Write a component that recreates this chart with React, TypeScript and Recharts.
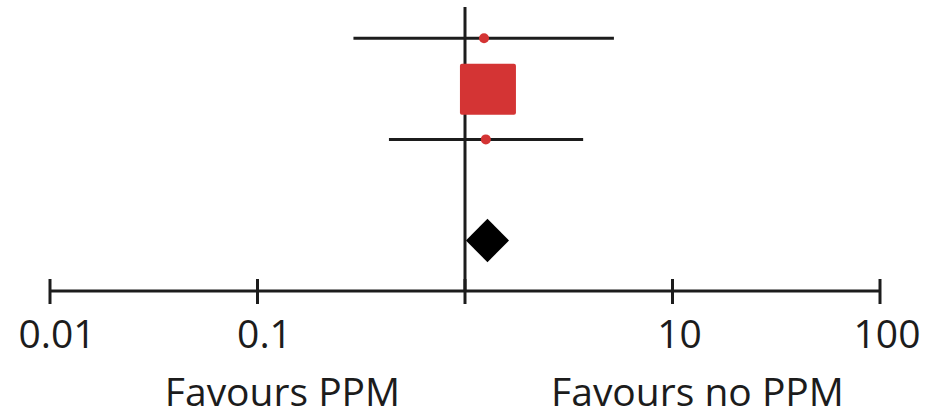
import { ComposedChart, XAxis, YAxis, Scatter, ReferenceLine, ReferenceArea } from 'recharts';

// study rows, top to bottom (y = row position on a hidden numeric axis)
const studyRows = [5, 4, 3];
const studyEstimates = [1.235, 1.29, 1.26];
const studyLower = [0.29, 1.03, 0.43];
const studyUpper = [5.22, 1.6, 3.71];
const studyMarkers = ['dot', 'square', 'dot'];

// pooled estimate
const pooledRow = 1;
const pooledEstimate = 1.27;
const pooledLower = 1.01;
const pooledUpper = 1.63;

const axisTicks = [0.01, 0.1, 1, 10, 100];
const tickLabels = ['0.01', '0.1', '', '10', '100'];
const favourTicks = [0.1, 10];
const favourLabels = ['Favours PPM', 'Favours no PPM'];

const INK = '#1c1c1c';
const RED = '#d43434';
const FONT = "'Open Sans', Lato, sans-serif";

const studies = studyRows.map((y, i) => ({
  y,
  x: studyEstimates[i],
  lo: studyLower[i],
  hi: studyUpper[i],
  marker: studyMarkers[i],
}));

const match = (list: number[], v: number) => list.findIndex((t) => Math.abs(Math.log10(t) - Math.log10(v)) < 1e-6);

function AxisTick({ x, y, payload }: any) {
  const i = match(axisTicks, payload.value);
  const f = match(favourTicks, payload.value);
  return (
    <g>
      <line x1={x} x2={x} y1={y - 12} y2={y + 13} stroke={INK} strokeWidth={3} />
      <text x={x + 7} y={y + 57} textAnchor="middle" fontFamily={FONT} fontSize={39} fill={INK}>
        {tickLabels[i]}
      </text>
      {f >= 0 && (
        <text x={x + 25} y={y + 115} textAnchor="middle" fontFamily={FONT} fontSize={39} fill={INK}>
          {favourLabels[f]}
        </text>
      )}
    </g>
  );
}

function StudyMarker({ cx, cy, payload }: any) {
  if (payload.marker === 'square') {
    return <rect x={cx - 28} y={cy - 25} width={56} height={51} rx={2} fill={RED} />;
  }
  return <circle cx={cx} cy={cy} r={5} fill={RED} />;
}

function Diamond({ x, y, width, height }: any) {
  const mx = x + width / 2;
  const my = y + height / 2;
  return <polygon points={`${x},${my} ${mx},${y} ${x + width},${my} ${mx},${y + height}`} fill="#000" />;
}

export default function App() {
  return (
    <div style={{ position: 'absolute', left: 0, top: 0, background: '#fff' }}>
      <ComposedChart width={928} height={417} margin={{ top: 7, right: 48, left: 50, bottom: 0 }}>
        <XAxis
          type="number"
          dataKey="x"
          scale="log"
          domain={[0.01, 100]}
          ticks={axisTicks}
          interval={0}
          allowDataOverflow
          height={126}
          axisLine={{ stroke: INK, strokeWidth: 3 }}
          tickLine={false}
          tickSize={0}
          tickMargin={0}
          tick={<AxisTick />}
        />
        <YAxis type="number" dataKey="y" domain={[0, 5.62]} hide />
        <ReferenceLine x={1} stroke={INK} strokeWidth={3} />
        {studies.map((s) => (
          <ReferenceLine
            key={s.y}
            segment={[{ x: s.lo, y: s.y }, { x: s.hi, y: s.y }]}
            stroke={INK}
            strokeWidth={3}
          />
        ))}
        <ReferenceArea
          x1={pooledLower}
          x2={pooledUpper}
          y1={pooledRow - 0.43}
          y2={pooledRow + 0.43}
          shape={<Diamond />}
        />
        <Scatter data={studies} shape={<StudyMarker />} isAnimationActive={false} />
        <Scatter data={[{ x: pooledEstimate, y: pooledRow }]} shape={() => <g />} isAnimationActive={false} />
      </ComposedChart>
    </div>
  );
}
